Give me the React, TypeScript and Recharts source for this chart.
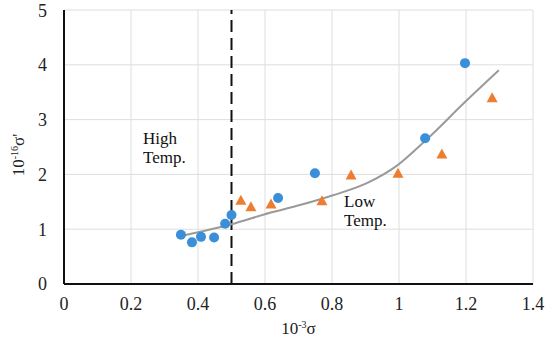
import { ComposedChart, Scatter, Line, XAxis, YAxis, CartesianGrid, ReferenceLine } from "recharts";

// blue circles (high temp)
const bluePoints = [
  { x: 0.349, y: 0.9 },
  { x: 0.382, y: 0.76 },
  { x: 0.409, y: 0.86 },
  { x: 0.448, y: 0.85 },
  { x: 0.481, y: 1.1 },
  { x: 0.5, y: 1.26 },
  { x: 0.639, y: 1.57 },
  { x: 0.749, y: 2.02 },
  { x: 1.078, y: 2.66 },
  { x: 1.197, y: 4.03 }
];

// orange triangles (low temp)
const orangePoints = [
  { x: 0.528, y: 1.53 },
  { x: 0.558, y: 1.41 },
  { x: 0.618, y: 1.46 },
  { x: 0.77, y: 1.52 },
  { x: 0.857, y: 1.99 },
  { x: 0.997, y: 2.02 },
  { x: 1.128, y: 2.37 },
  { x: 1.278, y: 3.4 }
];

// trend curve
const trendPoints = [
  { x: 0.36, y: 0.89 },
  { x: 0.5, y: 1.09 },
  { x: 0.615, y: 1.3 },
  { x: 0.704, y: 1.44 },
  { x: 0.803, y: 1.62 },
  { x: 0.904, y: 1.84 },
  { x: 0.994, y: 2.16 },
  { x: 1.083, y: 2.64 },
  { x: 1.197, y: 3.32 },
  { x: 1.298, y: 3.9 }
];

const xTicks = [0, 0.2, 0.4, 0.6, 0.8, 1, 1.2, 1.4];
const yTicks = [0, 1, 2, 3, 4, 5];
const boundaryX = 0.5;

const FONT = "Liberation Serif";

const Circle = (p: any) => <circle cx={p.cx} cy={p.cy} r={5} fill="#3a8fd8" />;
const Tri = (p: any) => (
  <polygon
    points={`${p.cx},${p.cy - 5.5} ${p.cx + 5.5},${p.cy + 4.5} ${p.cx - 5.5},${p.cy + 4.5}`}
    fill="#ed7d31"
  />
);

const XLabel = ({ viewBox }: any) => {
  const cx = viewBox.x + viewBox.width / 2;
  return (
    <text x={cx} y={viewBox.y + 50} textAnchor="middle" style={{ fontFamily: FONT }} fontSize={17} fill="#222">
      <tspan>10</tspan>
      <tspan dy={-6} fontSize={10}>-3</tspan>
      <tspan dy={6}>σ</tspan>
    </text>
  );
};

const YLabel = () => (
  <text x={0} y={0} transform="translate(24,155) rotate(-90)" textAnchor="middle" style={{ fontFamily: FONT }} fontSize={17} fill="#222">
    <tspan>10</tspan>
    <tspan dy={-6} fontSize={10}>-16</tspan>
    <tspan dy={6}>σ'</tspan>
  </text>
);

export default function App() {
  const note = { position: "absolute" as const, fontFamily: FONT, fontSize: 17, lineHeight: "19px", color: "#111" };
  const tickStyle = { fontFamily: FONT, fontSize: 18, fill: "#222" };
  return (
    <div style={{ position: "absolute", left: 0, top: 0, width: 545, height: 338, background: "#fff", fontFamily: FONT }}>
      <ComposedChart width={545} height={338} margin={{ top: 10, right: 12, left: 0, bottom: 0 }} style={{ fontFamily: FONT }}>
        <CartesianGrid stroke="#dedede" strokeWidth={1} />
        <XAxis
          type="number"
          dataKey="x"
          domain={[0, 1.4]}
          ticks={xTicks}
          height={54}
          tickLine={false}
          axisLine={{ stroke: "#111", strokeWidth: 2 }}
          tick={tickStyle}
          tickMargin={7}
          label={<XLabel />}
        />
        <YAxis
          type="number"
          dataKey="y"
          domain={[0, 5]}
          ticks={yTicks}
          width={64}
          tickLine={false}
          axisLine={{ stroke: "#111", strokeWidth: 2 }}
          tick={tickStyle}
          tickMargin={11}
          label={<YLabel />}
        />
        <ReferenceLine x={boundaryX} segment={[{ x: boundaryX, y: 0 }, { x: boundaryX, y: 4.95 }]} stroke="#111" strokeWidth={2} strokeDasharray="12 6" />
        <Line data={trendPoints} dataKey="y" type="monotone" stroke="#9a9a9a" strokeWidth={2} dot={false} isAnimationActive={false} />
        <Scatter data={bluePoints} dataKey="y" shape={Circle} isAnimationActive={false} />
        <Scatter data={orangePoints} dataKey="y" shape={Tri} isAnimationActive={false} />
      </ComposedChart>
      <div style={{ ...note, left: 143, top: 129 }}>High<br />Temp.</div>
      <div style={{ ...note, left: 344, top: 192 }}>Low<br />Temp.</div>
    </div>
  );
}
